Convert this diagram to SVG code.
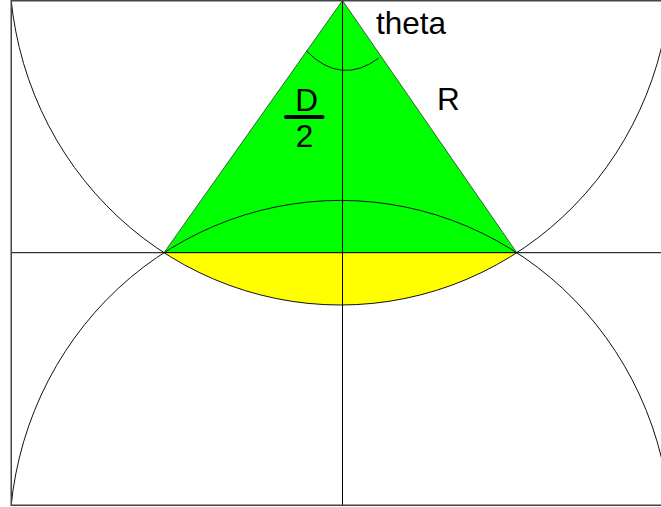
<svg xmlns="http://www.w3.org/2000/svg" width="661" height="507" viewBox="0 0 661 507">
<style>
.ln{stroke:#000;stroke-width:1;fill:none}
.fr{stroke:#444;stroke-width:1.5;fill:none}
.arc{stroke:#111;stroke-width:1;fill:none}
.lbl{font-family:"Liberation Sans",Arial,sans-serif;font-size:31.5px;fill:#000}
</style>
<defs>
<clipPath id="frame"><rect x="11" y="0" width="650" height="505"/></clipPath>
</defs>
<rect width="661" height="507" fill="#fff"/>
<g id="shapes">
<polygon id="triangle" points="342.5,0.5 164,252.7 516.8,252.7" fill="#00ff00" stroke="#222" stroke-width="0.7"/>
<path id="segment" d="M164,252.7 L516.8,252.7 A331,340 0 0,1 164,252.7 Z" fill="#ffff00"/>
</g>
<g id="connectors">
<g clip-path="url(#frame)">
<ellipse class="arc" cx="340.4" cy="-35" rx="331" ry="340"/>
<ellipse class="arc" cx="340.4" cy="540.4" rx="331" ry="340"/>
</g>
<line class="ln" x1="11" y1="252.7" x2="661" y2="252.7"/>
<line class="ln" x1="342.5" y1="0" x2="342.5" y2="505"/>
<path class="arc" d="M306.5,51 Q341,86 379,58"/>
<line class="fr" x1="11" y1="0.75" x2="661" y2="0.75"/>
<line class="fr" x1="11.25" y1="0" x2="11.25" y2="506"/>
<line class="fr" x1="11" y1="505.25" x2="661" y2="505.25"/>
</g>
<g id="labels">
<text class="lbl" x="376" y="34.3">theta</text>
<text class="lbl" x="437" y="110">R</text>
<text class="lbl" x="306.5" y="110.7" text-anchor="middle">D</text>
<line x1="286" y1="117" x2="322.5" y2="117" stroke="#000" stroke-width="4" stroke-linecap="round"/>
<text class="lbl" x="304.5" y="147.3" text-anchor="middle">2</text>
</g>
</svg>
